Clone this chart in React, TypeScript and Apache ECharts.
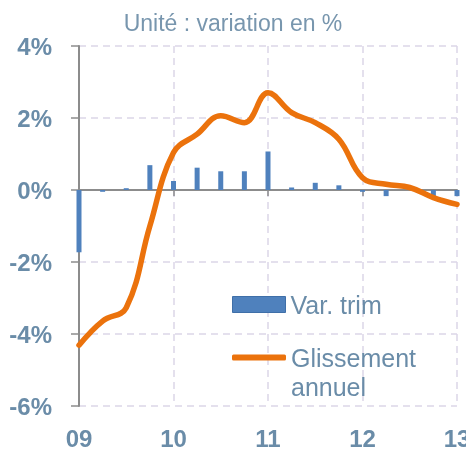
import React, { useEffect, useRef } from "react";
import * as echarts from "echarts";

const quarters = [0, 1, 2, 3, 4, 5, 6, 7, 8, 9, 10, 11, 12, 13, 14, 15, 16];
const yearLabels: Record<number, string> = { 0: "09", 4: "10", 8: "11", 12: "12", 16: "13" };
const varTrim = [-1.73, -0.05, 0.05, 0.69, 0.25, 0.62, 0.52, 0.52, 1.07, 0.07, 0.2, 0.13, -0.05, -0.17, 0.02, -0.2, -0.17];
const glissement = [-4.31, -3.64, -3.27, -1.0, 1.04, 1.55, 2.06, 1.87, 2.7, 2.15, 1.87, 1.41, 0.34, 0.16, 0.07, -0.21, -0.4];
const yTicks = [-6, -4, -2, 0, 2, 4];

const TEXT = "#6A8CA8";
const BLUE = "#4F81BD";
const ORANGE = "#EB720C";
const GRID = "#DCD6E8";
const AXIS = "#8C8C8C";

export default function App() {
  const ref = useRef<HTMLDivElement>(null);
  useEffect(() => {
    if (!ref.current) return;
    const chart = echarts.init(ref.current, null, { renderer: "svg" });
    chart.setOption({
      animation: false,
      title: {
        text: "Unité : variation en %",
        left: "center",
        top: 6,
        textStyle: { color: "#7896AE", fontSize: 23, fontWeight: "normal", fontFamily: "Liberation Sans, Arial" },
      },
      grid: { left: 79, right: 9, top: 46, bottom: 46, outerBoundsMode: "none", containLabel: false },
      legend: [
        {
          data: [{ name: "Var. trim", icon: "rect" }],
          left: 227,
          top: 287,
          itemWidth: 53,
          itemHeight: 16,
          itemGap: 5,
          textStyle: { color: TEXT, fontSize: 25, fontFamily: "Liberation Sans, Arial" },
          itemStyle: { borderColor: "#3F6FA8", borderWidth: 1 },
        },
        {
          data: [{ name: "Glissement annuel", icon: "roundRect" }],
          formatter: () => " \nGlissement\nannuel",
          left: 227,
          top: 309,
          itemWidth: 54,
          itemHeight: 6,
          itemStyle: { color: ORANGE },
          textStyle: {
            color: TEXT,
            fontSize: 25,
            lineHeight: 29,
            fontFamily: "Liberation Sans, Arial",
          },
        },
      ],
      xAxis: [
        {
          type: "value",
          min: 0,
          max: 16,
          interval: 4,
          axisLine: { show: false, onZero: false },
          axisTick: { show: false },
          axisLabel: {
            formatter: (v: number) => yearLabels[v] ?? "",
            color: TEXT,
            fontSize: 24,
            fontWeight: "bold",
            margin: 20,
            fontFamily: "Liberation Sans, Arial",
          },
          splitLine: { show: true, lineStyle: { color: GRID, type: [7, 5], width: 1.5 } },
        },
        {
          type: "value",
          min: 0,
          max: 16,
          interval: 4,
          position: "bottom",
          axisLine: { show: true, onZero: true, lineStyle: { color: AXIS, width: 2 } },
          axisTick: { show: true, inside: false, length: 6, lineStyle: { color: AXIS, width: 1.5 } },
          axisLabel: { show: false },
          splitLine: { show: false },
        },
      ],
      yAxis: {
        type: "value",
        min: -6,
        max: 4,
        interval: 2,
        axisLine: { show: true, lineStyle: { color: AXIS, width: 2 } },
        axisTick: { show: true, length: 8, lineStyle: { color: AXIS, width: 1.5 } },
        axisLabel: {
          formatter: (v: number) => (yTicks.includes(v) ? `${v}%` : ""),
          color: TEXT,
          fontSize: 24,
          fontWeight: "bold",
          margin: 27,
          fontFamily: "Liberation Sans, Arial",
        },
        splitLine: { show: true, lineStyle: { color: GRID, type: [7, 5], width: 1.5 } },
      },
      series: [
        {
          name: "Var. trim",
          type: "bar",
          xAxisIndex: 0,
          barWidth: 5,
          itemStyle: { color: BLUE },
          data: quarters.map((q, i) => [q, varTrim[i]]),
          z: 2,
        },
        {
          name: "Glissement annuel",
          type: "line",
          xAxisIndex: 0,
          smooth: 0.4,
          symbol: "none",
          lineStyle: { color: ORANGE, width: 5.5, cap: "round" },
          itemStyle: { color: ORANGE },
          data: quarters.map((q, i) => [q, glissement[i]]),
          z: 3,
        },
      ],
    });
    return () => chart.dispose();
  }, []);
  return <div ref={ref} style={{ position: "fixed", left: 0, top: 0, width: 466, height: 452 }} />;
}
